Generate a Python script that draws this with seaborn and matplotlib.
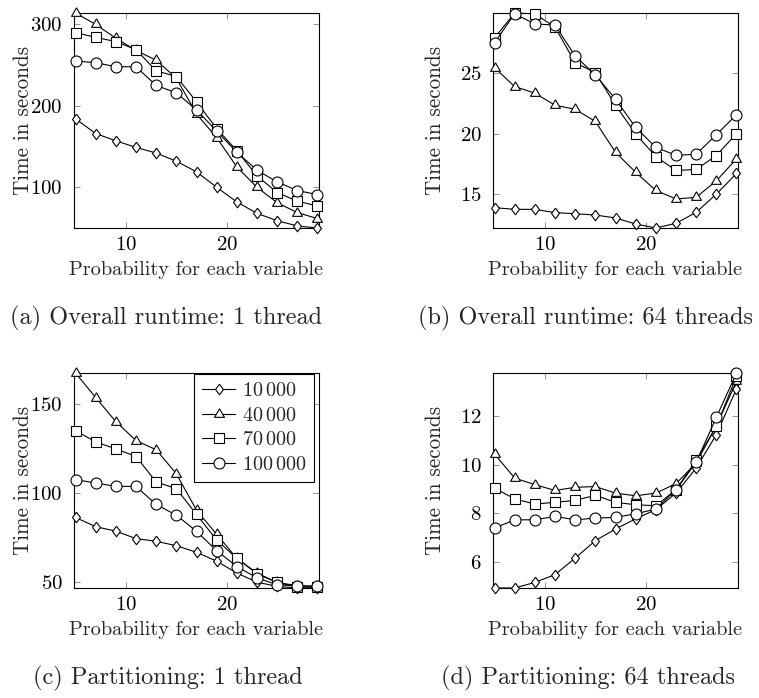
import numpy as np
import pandas as pd
import matplotlib
matplotlib.use("Agg")
import matplotlib.pyplot as plt
import seaborn as sns
from matplotlib.lines import Line2D

# ---------------------------------------------------------------- data
probability = [5, 7, 9, 11, 13, 15, 17, 19, 21, 23, 25, 27, 29]
size_labels = [r"$10\,000$", r"$40\,000$", r"$70\,000$", r"$100\,000$"]

overall_1_10k = [184, 166, 157, 149, 142, 132, 119, 100, 82, 68, 59, 52.5, 50]
overall_1_40k = [314, 300, 283, 268, 256, 234, 190, 161, 125, 100, 81, 69, 61.5]
overall_1_70k = [290, 284, 279, 269, 243, 236, 205, 172, 145, 114, 93.5, 83, 77]
overall_1_100k = [255, 253, 248, 248, 225, 216, 195, 169, 143, 121, 106.5, 96, 91]

overall_64_10k = [13.88, 13.74, 13.74, 13.47, 13.38, 13.27, 13.03, 12.53, 12.2, 12.59, 13.49, 15.0, 16.7]
overall_64_40k = [25.44, 23.88, 23.33, 22.34, 22.0, 21.0, 18.45, 16.8, 15.3, 14.6, 14.73, 16.1, 17.9]
overall_64_70k = [27.9, 29.95, 29.88, 28.78, 25.85, 25.03, 22.34, 19.96, 18.1, 16.95, 17.03, 18.18, 20.0]
overall_64_100k = [27.5, 29.88, 29.05, 28.95, 26.4, 24.84, 22.84, 20.5, 18.86, 18.2, 18.29, 19.9, 21.55]

partition_1_10k = [86.2, 81, 78.5, 74.3, 72.8, 70.3, 66.6, 61.6, 54.9, 49.8, 47.4, 46.5, 46.5]
partition_1_40k = [167.5, 153.7, 140.1, 129.5, 124.3, 110.8, 90.3, 76.7, 63.2, 54.9, 49.6, 47.8, 47.4]
partition_1_70k = [135.1, 128.7, 124.8, 120.5, 106.2, 102.4, 87.9, 73.5, 63.2, 54.5, 49.6, 47.0, 47.0]
partition_1_100k = [107.5, 105.6, 103.7, 103.7, 93.5, 87.5, 78.4, 67.5, 58.6, 52.2, 48.3, 47.8, 47.4]

partition_64_10k = [4.92, 4.92, 5.15, 5.47, 6.15, 6.87, 7.35, 7.77, 8.15, 8.83, 9.86, 11.24, 13.13]
partition_64_40k = [10.44, 9.45, 9.18, 8.94, 9.07, 9.1, 8.83, 8.72, 8.83, 9.22, 10.07, 11.6, 13.43]
partition_64_70k = [9.04, 8.59, 8.38, 8.45, 8.53, 8.74, 8.45, 8.35, 8.31, 8.97, 10.18, 11.58, 13.64]
partition_64_100k = [7.39, 7.73, 7.73, 7.87, 7.73, 7.8, 7.83, 7.98, 8.17, 8.97, 10.1, 11.95, 13.78]

yticks_a = [100, 200, 300]
yticks_b = [15, 20, 25]
yticks_c = [50, 100, 150]
yticks_d = [6, 8, 10, 12]
xticks = [10, 20]

captions = ["(a) Overall runtime: 1 thread", "(b) Overall runtime: 64 threads",
            "(c) Partitioning: 1 thread", "(d) Partitioning: 64 threads"]

# ---------------------------------------------------------------- style
sns.set_theme(style="ticks")
plt.rcParams["font.family"] = ["cmr10", "DejaVu Serif"]
plt.rcParams["mathtext.fontset"] = "cm"
plt.rcParams["axes.formatter.use_mathtext"] = True

W, H = 759, 698
fig = plt.figure(figsize=(W / 100, H / 100), dpi=100)

# pgfplots-like marks: diamond, triangle, square, circle
diamond = [(0, 1), (0.75, 0), (0, -1), (-0.75, 0), (0, 1)]
triangle = [(0, 1), (-0.866, -0.5), (0.866, -0.5), (0, 1)]
markers = [diamond, triangle, "s", "o"]
msizes = [7.6, 8.2, 7.9, 7.9]

TICK_FS = 15
LABEL_FS = 14.6


def make_frame(series):
    rows = []
    for lab, vals in zip(size_labels, series):
        for p, v in zip(probability, vals):
            rows.append({"p": p, "t": v, "size": lab})
    return pd.DataFrame(rows)


def axes_px(l, r, t, b):
    return fig.add_axes([l / W, 1 - b / H, (r - l) / W, (b - t) / H])


panels = [
    (axes_px(74, 319, 13, 228),
     [overall_1_10k, overall_1_40k, overall_1_70k, overall_1_100k], yticks_a, -0.167),
    (axes_px(493, 738, 13, 228),
     [overall_64_10k, overall_64_40k, overall_64_70k, overall_64_100k], yticks_b, -0.196),
    (axes_px(74, 319, 373, 588),
     [partition_1_10k, partition_1_40k, partition_1_70k, partition_1_100k], yticks_c, -0.167),
    (axes_px(493, 738, 373, 588),
     [partition_64_10k, partition_64_40k, partition_64_70k, partition_64_100k], yticks_d, -0.196),
]

for ax, series, yt, ylab_x in panels:
    df = make_frame(series)
    for lab, mk, ms in zip(size_labels, markers, msizes):
        sub = df[df["size"] == lab]
        sns.lineplot(data=sub, x="p", y="t", ax=ax, color="black", lw=0.8,
                     marker=mk, markersize=ms, markerfacecolor="white",
                     markeredgecolor="black", markeredgewidth=0.8,
                     label=lab, legend=False, errorbar=None, clip_on=False)
    ymin = min(min(s) for s in series)
    ymax = max(max(s) for s in series)
    ax.set_xlim(4.85, 29.15)
    ax.set_ylim(ymin, ymax)
    ax.set_xticks(xticks)
    ax.set_yticks(yt)
    ax.tick_params(direction="in", length=4.3, width=0.6, color="#7f7f7f",
                   labelsize=TICK_FS, top=True, right=True, labelcolor="black")
    ax.tick_params(axis="y", pad=8)
    ax.tick_params(axis="x", pad=6)
    for s in ax.spines.values():
        s.set_color("black")
        s.set_linewidth(0.8)
        s.set_zorder(1)
    ax.set_xlabel("Probability for each variable", fontsize=LABEL_FS)
    ax.set_ylabel("Time in seconds", fontsize=LABEL_FS + 0.6)
    ax.xaxis.set_label_coords(0.5, -0.155)
    ax.yaxis.set_label_coords(ylab_x, 0.5)
    leg = ax.get_legend()
    if leg is not None:
        leg.remove()

# legend inside the single-thread partitioning panel
ax_c = panels[2][0]
handles = [Line2D([], [], color="black", lw=0.8, marker=mk, markersize=ms,
                  markerfacecolor="white", markeredgecolor="black",
                  markeredgewidth=0.8)
           for mk, ms in zip(markers, msizes)]
leg = ax_c.legend(handles, size_labels, loc="upper right",
                  bbox_to_anchor=(0.985, 1.0), fontsize=14.5, frameon=True,
                  fancybox=False, framealpha=1, edgecolor="black",
                  handlelength=1.6, handletextpad=0.35, labelspacing=0.32,
                  borderpad=0.4, borderaxespad=0.05)
leg.get_frame().set_linewidth(0.8)
leg.set_zorder(5)

# sub-figure captions
cap_pos = [(166, 318), (585, 318), (168, 678), (588, 678)]
for text, (cx, cy) in zip(captions, cap_pos):
    fig.text(cx / W, 1 - cy / H, text, ha="center", va="center", fontsize=17.5)

fig.savefig("out.png", dpi=100)
